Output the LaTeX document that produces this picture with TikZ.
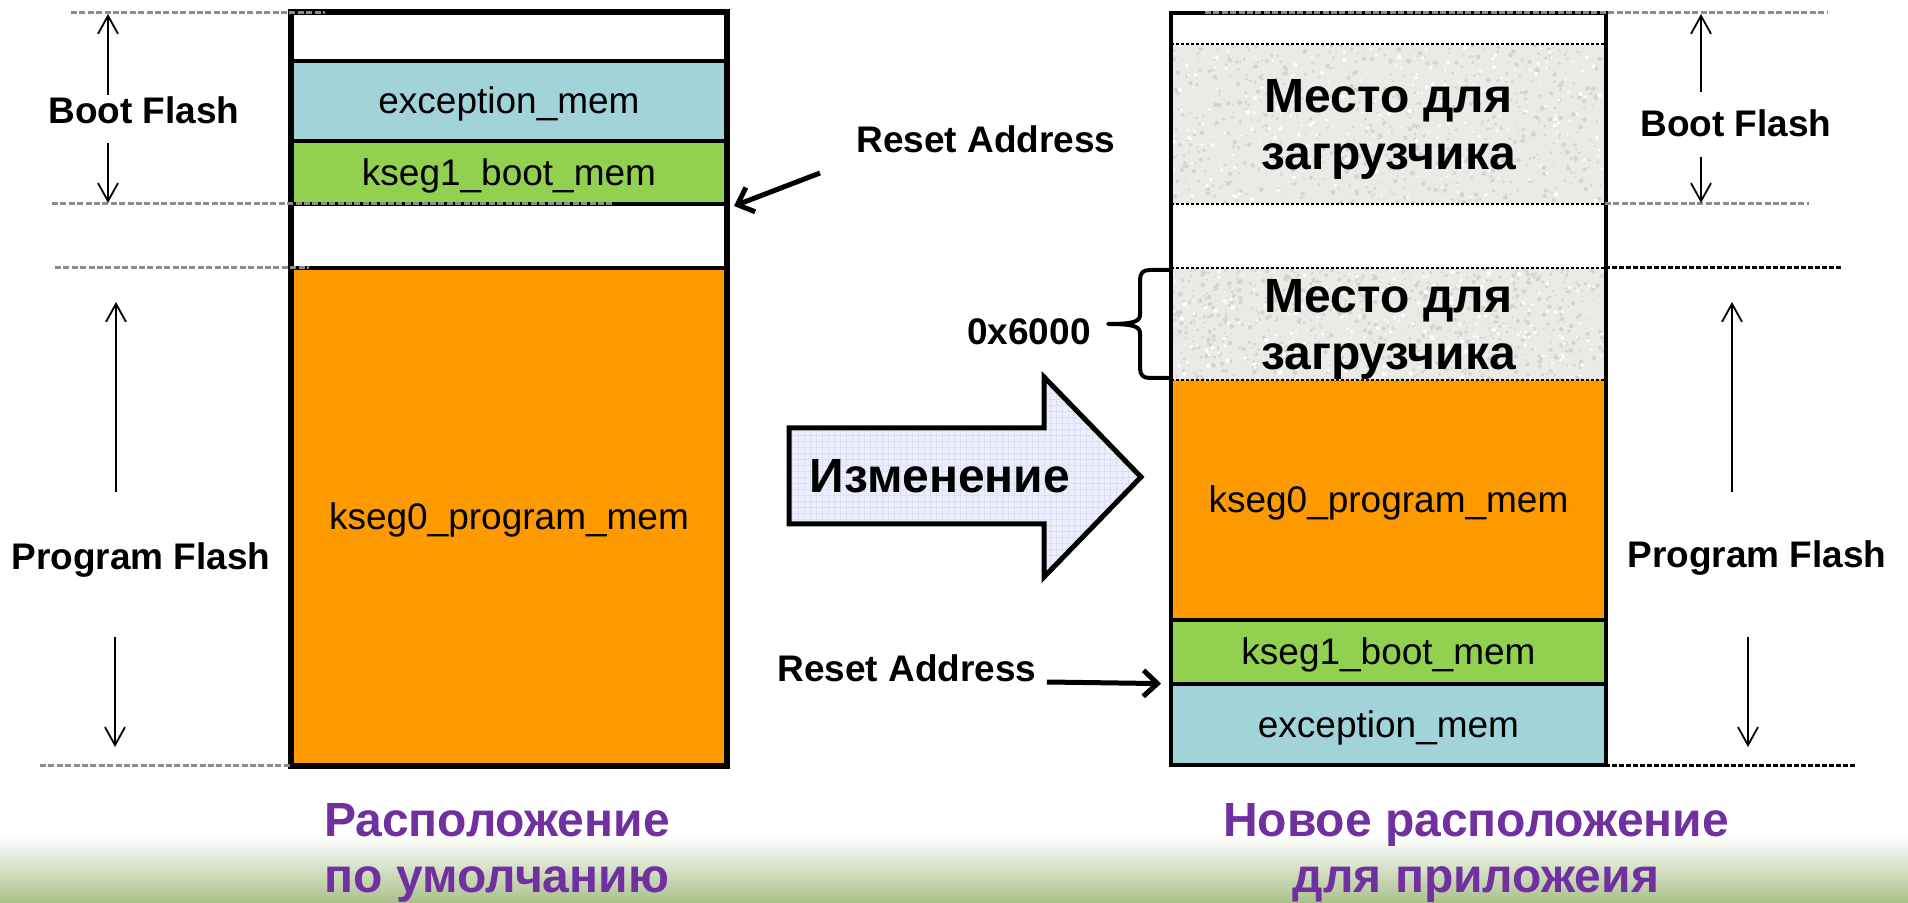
\documentclass[tikz,border=0pt]{standalone}
\usepackage{fontspec}
\setmainfont{Liberation Sans}
\usetikzlibrary{arrows.meta,patterns,calc}

\definecolor{excblue}{RGB}{160,212,216}
\definecolor{bootgreen}{RGB}{146,208,80}
\definecolor{progorange}{RGB}{252,154,0}
\definecolor{hatchgrey}{RGB}{234,234,231}
\definecolor{speck}{RGB}{212,212,208}
\definecolor{arrowfill}{RGB}{236,238,251}
\definecolor{arrowgrid}{RGB}{220,223,243}
\definecolor{guidegrey}{RGB}{140,140,140}
\definecolor{captionpurple}{RGB}{112,48,160}
\definecolor{grassgreen}{RGB}{170,192,138}
\definecolor{grasslight}{RGB}{226,236,214}

\begin{document}
\begin{tikzpicture}[x=0.5pt,y=-0.5pt,
  cell/.style={rectangle, inner sep=0pt, minimum width=217pt,
    text height=13pt, text depth=0pt,
    font=\fontsize{18.5}{22}\selectfont},
  band/.style={cell, draw=black, line width=2pt},
  hatchtext/.style={font=\bfseries\fontsize{24}{28.5}\selectfont,
    align=center, inner sep=0pt},
  sidelabel/.style={font=\bfseries\fontsize{18.5}{22}\selectfont,
    inner sep=0pt, anchor=base},
  guide/.style={draw=guidegrey, line width=1.5pt, dash pattern=on 3pt off 1.2pt},
  guidedark/.style={draw=black, line width=1.5pt, dash pattern=on 2.5pt off 1pt},
  hatchedge/.style={draw=black, line width=1pt, dash pattern=on 1.5pt off 1pt},
  extent/.style={line width=0.9pt, -{Straight Barb[length=9pt,width=10pt]}},
  resetarrow/.style={line width=2.5pt, -{Straight Barb[length=7pt,width=13pt]}},
  captext/.style={font=\bfseries\fontsize{24}{28}\selectfont,
    text=captionpurple, align=center, inner sep=0pt},
]
\useasboundingbox (0,0) rectangle (1908,903);
\fill[white] (0,0) rectangle (1908,903);
\shade[top color=white, middle color=grasslight, bottom color=grassgreen]
  (0,836) rectangle (1908,903);

% ---- default layout (left column) ----
\node[band, fill=white, minimum height=24pt] (ltop) at (509,37) {};
\node[band, fill=excblue, minimum height=40pt] (lexc) at (509,101) {exception\_mem};
\node[band, fill=bootgreen, minimum height=31.5pt] (lk1) at (509,172.5) {kseg1\_boot\_mem};
\node[band, fill=white, minimum height=32pt] (lgap) at (509,236) {};
\node[band, fill=progorange, minimum height=248.5pt] (lk0) at (509,516.5) {kseg0\_program\_mem};
\draw[line width=2pt] (ltop.north west) rectangle (lk0.south east);

% ---- new layout (right column) ----
\node[cell, fill=white, minimum height=15.5pt] (rtop) at (1388.5,28.5) {};
\node[cell, fill=hatchgrey, minimum height=80pt] (rh1) at (1388.5,124) {};
\node[cell, fill=white, minimum height=32pt] (rgap) at (1388.5,236) {};
\node[cell, fill=hatchgrey, minimum height=56pt] (rh2) at (1388.5,324) {};
\node[cell, fill=progorange, minimum height=120pt] (rk0) at (1388.5,500) {kseg0\_program\_mem};
\node[cell, fill=bootgreen, minimum height=32pt] (rk1) at (1388.5,652) {kseg1\_boot\_mem};
\node[cell, fill=excblue, minimum height=40.5pt] (rexc) at (1388.5,724.5) {exception\_mem};

% stone texture of the reserved areas
\pgfmathsetseed{11}
\foreach \reg in {rh1,rh2}{
  \begin{scope}
    \clip (\reg.north west) rectangle (\reg.south east);
    \foreach \i in {1,...,800}{
      \fill[speck] ($(\reg.north west)!rnd!(\reg.south west)$) ++(433*rnd,0)
        circle[radius=0.3pt+0.9pt*rnd];
    }
    \foreach \i in {1,...,300}{
      \fill[white] ($(\reg.north west)!rnd!(\reg.south west)$) ++(433*rnd,0)
        circle[radius=0.3pt+0.8pt*rnd];
    }
  \end{scope}
}
\foreach \reg in {rh1,rh2}{
  \draw[hatchedge] (\reg.north west) -- (\reg.north east);
  \draw[hatchedge] (\reg.south west) -- (\reg.south east);
}
\draw[line width=2pt] (rk1.north west) -- (rk1.north east);
\draw[line width=2pt] (rexc.north west) -- (rexc.north east);
\draw[line width=2pt] (rtop.north west) rectangle (rexc.south east);

\node[hatchtext, yshift=-2.7pt] (rh1t) at (rh1.center) {Место для\\загрузчика};
\node[hatchtext, yshift=-2.7pt] (rh2t) at (rh2.center) {Место для\\загрузчика};

% ---- boundary guides ----
\draw[guide] (71,13) -- (325,13);
\draw[guide] (52,204) -- (612,204);
\draw[guide] (55,268) -- (309,268);
\draw[guide] (40,765) -- (292,765);
\draw[guide] (1205,13) -- (1827,13);
\draw[guide] (1605,204) -- (1809,204);
\draw[guidedark] (1605,268) -- (1843,268);
\draw[guidedark] (1605,765) -- (1856,765);

% ---- region labels with extent arrows ----
\node[sidelabel] (bfL) at (144,124) {Boot Flash};
\node[sidelabel] (pfL) at (141,570) {Program Flash};
\node[sidelabel] (bfR) at (1736,137) {Boot Flash};
\node[sidelabel] (pfR) at (1757,568) {Program Flash};

\coordinate (bfLa) at (108,95);   \coordinate (bfLtop) at (108,14);
\coordinate (bfLb) at (108,143);  \coordinate (bfLbot) at (108,203);
\coordinate (pfLa) at (116,492);  \coordinate (pfLtop) at (116,302);
\coordinate (pfLb) at (115,637);  \coordinate (pfLbot) at (115,747);
\coordinate (bfRa) at (1701,92);  \coordinate (bfRtop) at (1701,14);
\coordinate (bfRb) at (1701,157); \coordinate (bfRbot) at (1701,203);
\coordinate (pfRa) at (1732,492); \coordinate (pfRtop) at (1732,302);
\coordinate (pfRb) at (1748,637); \coordinate (pfRbot) at (1748,747);

\draw[extent] (bfLa) -- (bfLtop);
\draw[extent] (bfLb) -- (bfLbot);
\draw[extent] (pfLa) -- (pfLtop);
\draw[extent] (pfLb) -- (pfLbot);
\draw[extent] (bfRa) -- (bfRtop);
\draw[extent] (bfRb) -- (bfRbot);
\draw[extent] (pfRa) -- (pfRtop);
\draw[extent] (pfRb) -- (pfRbot);

% ---- reset vectors ----
\node[sidelabel] (rsT) at (986,153) {Reset Address};
\coordinate (rsTtail) at (820,173);
\draw[resetarrow] (rsTtail) -- ([xshift=3pt]lk1.south east);

\node[sidelabel] (rsB) at (907,682) {Reset Address};
\draw[resetarrow] ([xshift=5pt]rsB.base east) -- ([xshift=-5pt]rexc.north west);

% ---- size of the relocated area ----
\draw[line width=2pt, line cap=round, line join=round]
  (1171,270) -- (1150,270) .. controls (1143,270) and (1140,273) .. (1140,280)
  -- (1140,314) .. controls (1140,321) and (1136,324) .. (1108,324)
  .. controls (1136,324) and (1140,327) .. (1140,334)
  -- (1140,368) .. controls (1140,375) and (1143,378) .. (1150,378) -- (1171,378);
\node[sidelabel] (sz) at (1029,345) {0x6000};

% ---- transition arrow ----
\draw[line width=2.5pt, line join=miter, preaction={fill=arrowfill},
      pattern=grid, pattern color=arrowgrid]
  (789,428) -- (1044,428) -- (1044,377) -- (1141,477) -- (1044,577)
  -- (1044,524) -- (789,524) -- cycle;
\node[hatchtext, anchor=base] (chg) at (940,493) {Изменение};

% ---- captions ----
\node[captext] (capL) at (497,853) {Расположение\\по умолчанию};
\node[captext] (capR) at (1476,853) {Новое расположение\\для приложеия};
\end{tikzpicture}
\end{document}
